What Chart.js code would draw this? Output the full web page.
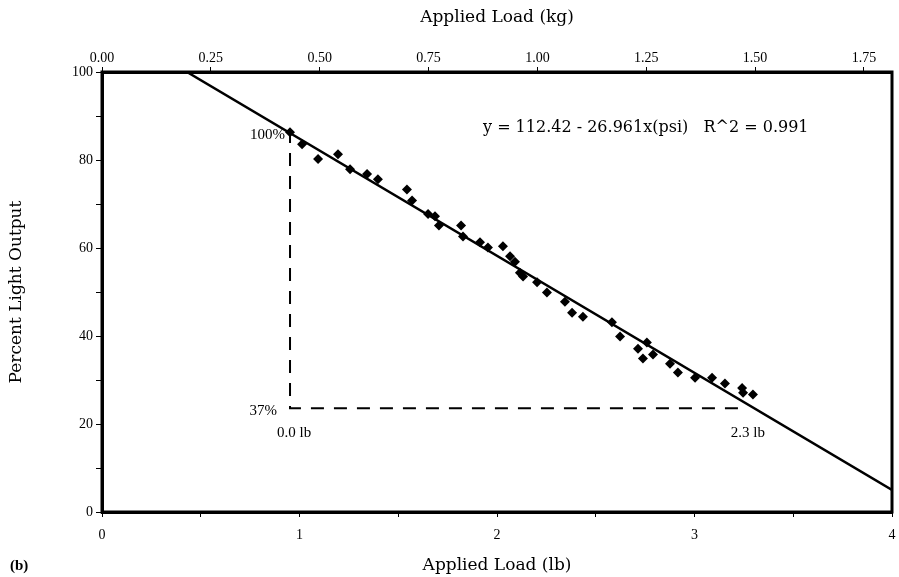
<!DOCTYPE html>
<html>
<head>
<meta charset="utf-8">
<script src="https://cdn.jsdelivr.net/npm/chart.js@4.4.1/dist/chart.umd.min.js"></script>
<style>
  html, body { margin: 0; padding: 0; background: #fff; }
  #wrap { width: 899px; height: 577px; position: relative; }
</style>
</head>
<body>
<div id="wrap"><canvas id="c"></canvas></div>
<script>
// ── DATA ──────────────────────────────────────────────────────────────────────

// Measured points: applied load (lb) vs percent light output
const loadLb = [
  0.952, 1.013, 1.094, 1.195, 1.256, 1.342, 1.397, 1.544, 1.570, 1.651,
  1.686, 1.706, 1.818, 1.828, 1.914, 1.954, 2.030, 2.066, 2.091, 2.116,
  2.132, 2.203, 2.253, 2.344, 2.380, 2.435, 2.582, 2.623, 2.759, 2.714,
  2.739, 2.790, 2.876, 2.916, 3.003, 3.089, 3.154, 3.241, 3.246, 3.296
]
const lightPct = [
  86.3, 83.6, 80.2, 81.3, 77.9, 76.8, 75.6, 73.3, 70.8, 67.7,
  67.2, 65.1, 65.1, 62.6, 61.3, 60.1, 60.4, 58.1, 56.9, 54.4,
  53.5, 52.2, 49.9, 47.8, 45.3, 44.4, 43.1, 39.9, 38.5, 37.1,
  34.9, 35.8, 33.7, 31.7, 30.5, 30.5, 29.2, 28.2, 27.1, 26.7
]

// Linear fit (endpoints)
const fitX = [0.43, 4.0]
const fitY = [100.0, 5.0]

// Dashed construction lines: 100% -> 37%, 0.0 lb -> 2.3 lb
const dashX = [0.952, 0.952, 3.27]
const dashY = [86.8, 23.6, 23.6]

const yTicks      = [0, 20, 40, 60, 80, 100]
const lbTicks     = [0, 1, 2, 3, 4]
const kgMax       = 4 / 2.20462
const equation    = 'y = 112.42 - 26.961x(psi)   R^2 = 0.991'

// ── CHART ─────────────────────────────────────────────────────────────────────

const SERIF = '"Liberation Serif", "DejaVu Serif", serif'
const WIDE  = '"DejaVu Serif", "Liberation Serif", serif'
const toXY  = (xs, ys) => xs.map((x, i) => ({ x, y: ys[i] }))

// Frame, annotation texts and panel letter
const framePlugin = {
  id: 'frame',
  afterDraw(chart) {
    const { ctx, chartArea: { left, right, top, bottom }, scales: { x, y } } = chart
    ctx.save()
    ctx.strokeStyle = '#000'; ctx.lineWidth = 3
    ctx.strokeRect(left, top, right - left, bottom - top)

    ctx.fillStyle = '#000'
    ctx.font = '15px ' + SERIF
    ctx.textBaseline = 'middle'
    ctx.textAlign = 'right'
    ctx.fillText('100%', x.getPixelForValue(dashX[0]) - 5, y.getPixelForValue(dashY[0]) + 5)
    ctx.fillText('37%',  x.getPixelForValue(dashX[0]) - 13, y.getPixelForValue(dashY[1]) + 3)
    ctx.textAlign = 'left'
    ctx.fillText('0.0 lb', x.getPixelForValue(dashX[0]) - 13, y.getPixelForValue(dashY[1]) + 25)
    ctx.fillText('2.3 lb', x.getPixelForValue(dashX[2]) - 17, y.getPixelForValue(dashY[2]) + 25)

    ctx.font = '16px ' + WIDE
    ctx.fillText(equation, 483, 128)

    ctx.font = 'bold 15px ' + SERIF
    ctx.fillText('(b)', 10, 566)
    ctx.restore()
  }
}

const noSidePad = s => { s.paddingLeft = 0; s.paddingRight = 0 }

new Chart(document.getElementById('c'), {
  type: 'scatter',
  plugins: [framePlugin],
  data: {
    datasets: [
      {
        data: toXY(loadLb, lightPct),
        pointStyle: 'rectRot', radius: 5, hoverRadius: 5,
        backgroundColor: '#000', borderColor: '#000', borderWidth: 0
      },
      {
        data: toXY(fitX, fitY), showLine: true,
        borderColor: '#000', borderWidth: 2.5, pointRadius: 0, fill: false
      },
      {
        data: toXY(dashX, dashY), showLine: true,
        borderColor: '#000', borderWidth: 2, borderDash: [13, 10], pointRadius: 0, fill: false
      }
    ]
  },
  options: {
    responsive: true, maintainAspectRatio: false, animation: false,
    layout: { padding: { left: 0, right: 7, top: 0, bottom: 0 } },
    plugins: { legend: { display: false }, tooltip: { enabled: false } },
    scales: {
      x: {
        type: 'linear', position: 'bottom', min: 0, max: 4,
        afterFit: s => { s.height = 65; noSidePad(s) },
        border: { display: true, color: '#000', width: 3 },
        grid: { drawOnChartArea: false, drawTicks: true, tickLength: 5, color: '#000', lineWidth: 1 },
        ticks: {
          stepSize: 0.5, includeBounds: false, padding: 10, color: '#000',
          font: { family: SERIF, size: 14 }, maxRotation: 0,
          callback: v => lbTicks.includes(v) ? String(v) : ''
        },
        title: { display: true, text: 'Applied Load (lb)', color: '#000',
                 font: { family: WIDE, size: 17 }, padding: { top: 0, bottom: 1 } }
      },
      x2: {
        type: 'linear', position: 'top', min: 0, max: kgMax,
        afterFit: s => { s.height = 72; noSidePad(s) },
        border: { display: true, color: '#000', width: 3 },
        grid: { drawOnChartArea: false, drawTicks: true, tickLength: 5, color: '#000', lineWidth: 1 },
        ticks: {
          stepSize: 0.25, includeBounds: false, padding: 0, color: '#000',
          font: { family: SERIF, size: 14 }, maxRotation: 0,
          callback: v => v.toFixed(2)
        },
        title: { display: true, text: 'Applied Load (kg)', color: '#000',
                 font: { family: WIDE, size: 17 }, padding: { top: 7, bottom: 0 } }
      },
      y: {
        type: 'linear', position: 'left', min: 0, max: 100,
        afterFit: s => { s.width = 102 },
        border: { display: true, color: '#000', width: 3 },
        grid: { drawOnChartArea: false, drawTicks: true, tickLength: 6, color: '#000', lineWidth: 1 },
        ticks: {
          stepSize: 10, includeBounds: false, padding: 3, color: '#000',
          font: { family: SERIF, size: 14 },
          callback: v => yTicks.includes(v) ? String(v) : ''
        },
        title: { display: true, text: 'Percent Light Output', color: '#000',
                 font: { family: WIDE, size: 17 }, padding: { top: 6, bottom: 0 } }
      }
    }
  }
})
</script>
</body>
</html>
